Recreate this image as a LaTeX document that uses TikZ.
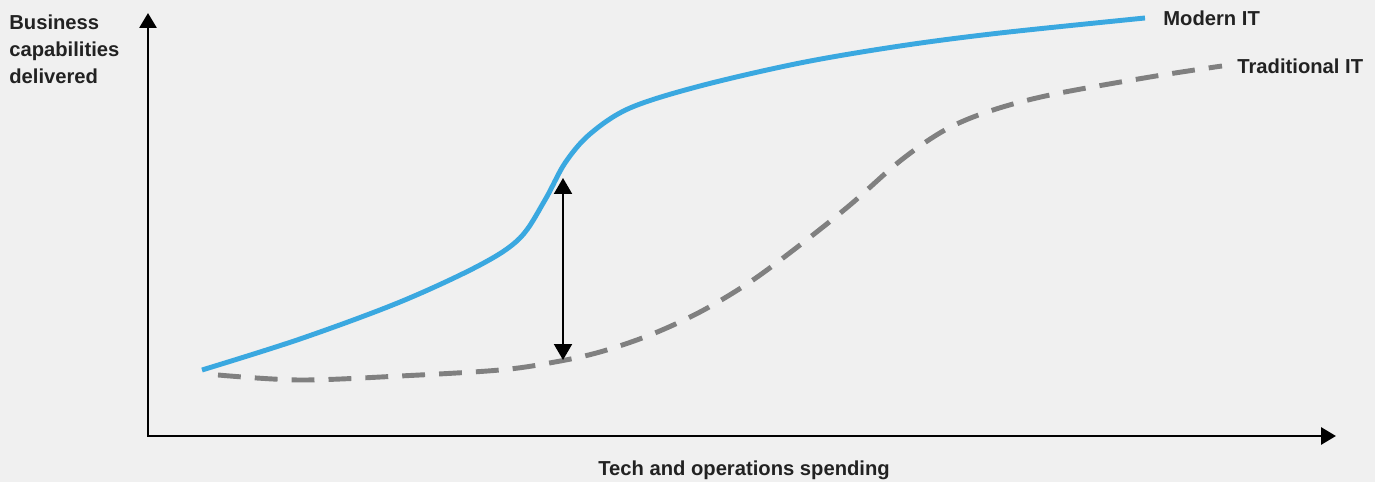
\documentclass[tikz,border=0pt]{standalone}
\usepackage{fontspec}
\setmainfont{Liberation Sans}
\usetikzlibrary{arrows.meta, positioning}
\definecolor{bgGray}{HTML}{F0F0F0}
\definecolor{modernBlue}{HTML}{3AA8E0}
\definecolor{tradGray}{HTML}{808080}
\definecolor{inkDark}{HTML}{222222}
\tikzset{
  axis/.style = {
    {Triangle[length=3mm, width=3.4mm]}-{Triangle[length=3mm, width=3.4mm]},
    line width=1.6pt,
  },
  gap/.style = {
    {Triangle[length=3.2mm, width=3.6mm]}-{Triangle[length=3.2mm, width=3.6mm]},
    line width=1.2pt,
  },
  modern/.style = {
    draw=modernBlue,
    line width=2.8pt,
  },
  traditional/.style = {
    draw=tradGray,
    line width=2.8pt,
    dash pattern=on 13pt off 8pt,
  },
  caption/.style = {
    font=\bfseries\fontsize{11.5}{15.3}\selectfont,
    text=inkDark,
    inner sep=0pt,
  },
}

\begin{document}
\begin{tikzpicture}[x=0.02cm, y=-0.02cm]
\fill[bgGray] (0,0) rectangle (1375,482);
\useasboundingbox (0,0) rectangle (1375,482);

\coordinate (Origin) at (148,436);
\coordinate (YTop) at (148,13);
\coordinate (XEnd) at (1336,436);

\draw[modern] plot[smooth, tension=0.55] coordinates {
  (202,370) (300,339) (400,302) (480,265) (520,238) (545,200)
  (565,163) (590,134) (630,108) (700,86) (800,63) (900,46)
  (1000,33) (1145,18)
};
\coordinate (ModernEnd) at (1145,18);

\draw[traditional] plot[smooth, tension=0.55] coordinates {
  (218,375) (300,380) (400,376) (500,370) (555,362) (600,352)
  (650,335) (700,312) (750,282) (800,245) (850,205) (900,161)
  (945,130) (990,111) (1050,95) (1150,77) (1222,66)
};
\coordinate (TraditionalEnd) at (1222,66);

\draw[axis] (YTop) -- (Origin) -- (XEnd);

\coordinate (GapTop) at (563,178);
\coordinate (GapBottom) at (563,360);
\draw[gap] (GapTop) -- (GapBottom);

\node(ModernLabel)[caption, anchor=west, right=18 of ModernEnd] {Modern IT};
\node(TraditionalLabel)[caption, anchor=west, right=15 of TraditionalEnd] {Traditional IT};

\node(YLabel)[caption, anchor=north west, align=left] at (9,15) {
  Business\\
  capabilities\\
  delivered
};
\node(XLabel)[caption, anchor=base] at (744,475) {Tech and operations spending};

\end{tikzpicture}
\end{document}
